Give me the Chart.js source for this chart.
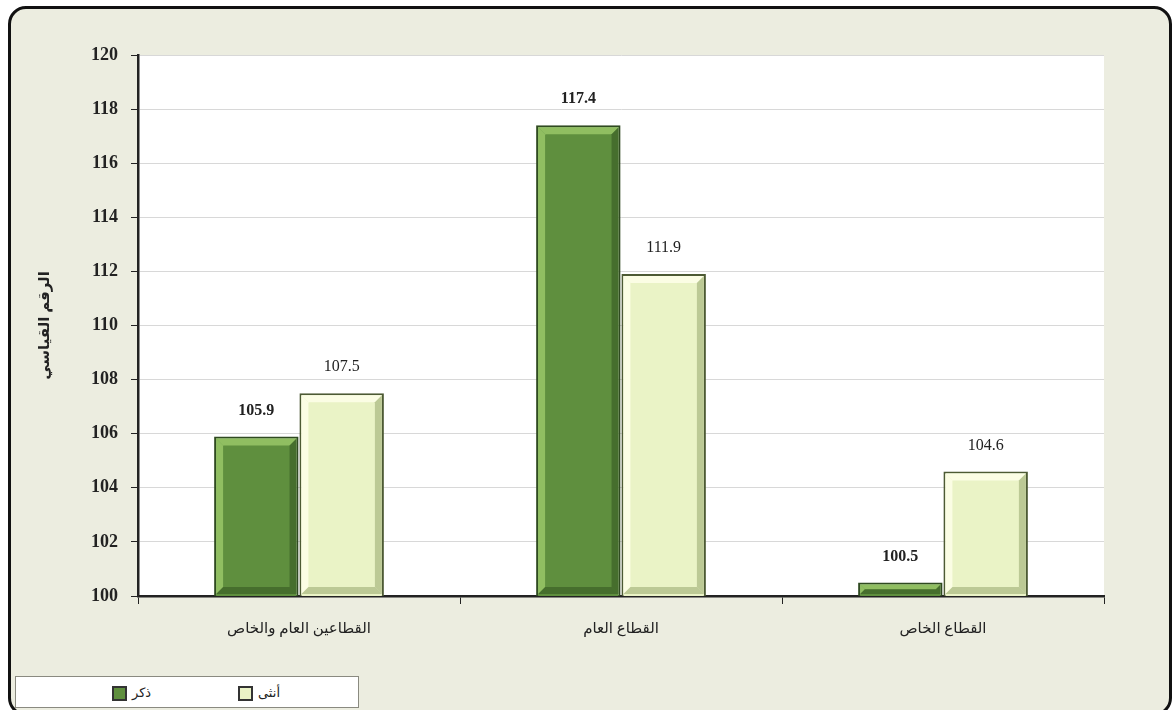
<!DOCTYPE html>
<html>
<head>
<meta charset="utf-8">
<script src="https://cdn.jsdelivr.net/npm/chart.js@4"></script>
<style>
  html, body { margin: 0; padding: 0; background: #fff; }
  #wrap { position: relative; width: 1175px; height: 710px; overflow: hidden; }
  #frame {
    position: absolute; left: 8px; top: 6px; width: 1158px; height: 704px;
    border: 3px solid #111; border-radius: 18px; background: #ecede0;
  }
  #chart { position: absolute; left: 0; top: 0; }
  #legend {
    position: absolute; left: 15px; top: 676px; width: 342px; height: 30px;
    background: #fff; border: 1px solid #8a8a80;
    font-family: "Liberation Serif", "DejaVu Sans", serif; font-size: 13px; color: #222;
  }
  .item { position: absolute; top: 8px; display: flex; align-items: center; }
  .sw { width: 11px; height: 11px; border: 2px solid #333; margin-right: 5px; }
</style>
</head>
<body>
<div id="wrap">
  <div id="frame"></div>
  <canvas id="chart" width="1175" height="710"></canvas>
  <div id="legend"></div>
</div>
<script>
document.addEventListener('DOMContentLoaded', () => {
  // القطاعات
  const categories = ['القطاعين العام والخاص', 'القطاع العام', 'القطاع الخاص'];
  const seriesNames = ['ذكر', 'أنثى'];
  const maleValues = [105.9, 117.4, 100.5];
  const femaleValues = [107.5, 111.9, 104.6];
  const fills = ['#5f8f3e', '#eaf3c6'];
  const borders = ['#2f4a20', '#4d5a34'];
  const bevelLight = ['rgba(160,205,110,0.75)', 'rgba(255,255,235,0.8)'];
  const bevelDark = ['rgba(40,70,25,0.45)', 'rgba(150,165,110,0.55)'];

  // legend (html)
  const legendX = [96, 222];
  const legend = document.getElementById('legend');
  seriesNames.forEach((name, i) => {
    const el = document.createElement('div');
    el.className = 'item';
    el.style.left = legendX[i] + 'px';
    el.innerHTML = '<span class="sw" style="background:' + fills[i] + '"></span><span>' + name + '</span>';
    legend.appendChild(el);
  });

  // white plot area
  const plotBg = {
    id: 'plotBg',
    beforeDraw(chart) {
      const { ctx, chartArea: a } = chart;
      ctx.save();
      ctx.fillStyle = '#ffffff';
      ctx.fillRect(a.left, a.top, a.right - a.left, a.bottom - a.top);
      ctx.restore();
    }
  };

  // bevel look on each bar + value labels
  const poly = (ctx, pts, color) => {
    ctx.fillStyle = color;
    ctx.beginPath();
    ctx.moveTo(pts[0][0], pts[0][1]);
    pts.slice(1).forEach(p => ctx.lineTo(p[0], p[1]));
    ctx.closePath();
    ctx.fill();
  };
  const bevel = {
    id: 'bevel',
    afterDatasetsDraw(chart) {
      const { ctx, chartArea } = chart;
      ctx.save();
      chart.data.datasets.forEach((ds, di) => {
        chart.getDatasetMeta(di).data.forEach(bar => {
          const l = bar.x - bar.width / 2 + 2, r = bar.x + bar.width / 2 - 2;
          const t = bar.y + 2, b = Math.min(bar.base, chartArea.bottom) - 2;
          const s = Math.min(7, (b - t) / 2);
          if (s < 1) return;
          poly(ctx, [[l, t], [r, t], [r - s, t + s], [l + s, t + s]], bevelLight[di]);
          poly(ctx, [[l, t], [l + s, t + s], [l + s, b - s], [l, b]], bevelLight[di]);
          poly(ctx, [[r, t], [r, b], [r - s, b - s], [r - s, t + s]], bevelDark[di]);
          poly(ctx, [[l, b], [l + s, b - s], [r - s, b - s], [r, b]], bevelDark[di]);
        });
      });
      ctx.textAlign = 'center';
      ctx.textBaseline = 'bottom';
      ctx.fillStyle = '#222';
      chart.data.datasets.forEach((ds, di) => {
        ctx.font = (di === 0 ? 'bold ' : '') + '16px "Liberation Serif", serif';
        chart.getDatasetMeta(di).data.forEach((bar, i) => {
          ctx.fillText(ds.data[i].toFixed(1), bar.x, bar.y - 18);
        });
      });
      ctx.restore();
    }
  };

  new Chart(document.getElementById('chart'), {
    type: 'bar',
    plugins: [plotBg, bevel],
    data: {
      labels: categories,
      datasets: [
        { label: seriesNames[0], data: maleValues, backgroundColor: fills[0], borderColor: borders[0], borderWidth: 2 },
        { label: seriesNames[1], data: femaleValues, backgroundColor: fills[1], borderColor: borders[1], borderWidth: 2 }
      ]
    },
    options: {
      responsive: false,
      animation: false,
      categoryPercentage: 0.53,
      barPercentage: 0.99,
      layout: { padding: { left: 0, top: 55, right: 71, bottom: 64 } },
      plugins: { legend: { display: false }, tooltip: { enabled: false } },
      scales: {
        x: {
          afterFit: (s) => { s.height = 50; },
          grid: { drawOnChartArea: false, drawTicks: true, tickLength: 8, tickColor: '#222', offset: true },
          border: { color: '#222', width: 2.5 },
          ticks: {
            padding: 16, color: '#222',
            font: { family: '"Liberation Serif", "DejaVu Sans", serif', size: 15 }
          }
        },
        y: {
          min: 100, max: 120,
          afterFit: (s) => { s.width = 138; },
          grid: { color: '#d8d8d8', tickColor: '#222', tickLength: 7 },
          border: { color: '#222', width: 2.5 },
          ticks: {
            stepSize: 2, padding: 13, color: '#222',
            font: { family: '"Liberation Serif", serif', size: 18, weight: 'bold' }
          },
          title: {
            display: true, text: 'الرقم القياسي', color: '#222',
            padding: { top: 36, bottom: 0 },
            font: { family: '"Liberation Serif", "DejaVu Sans", serif', size: 15, weight: 'bold' }
          }
        }
      }
    }
  });
});
</script>
</body>
</html>
